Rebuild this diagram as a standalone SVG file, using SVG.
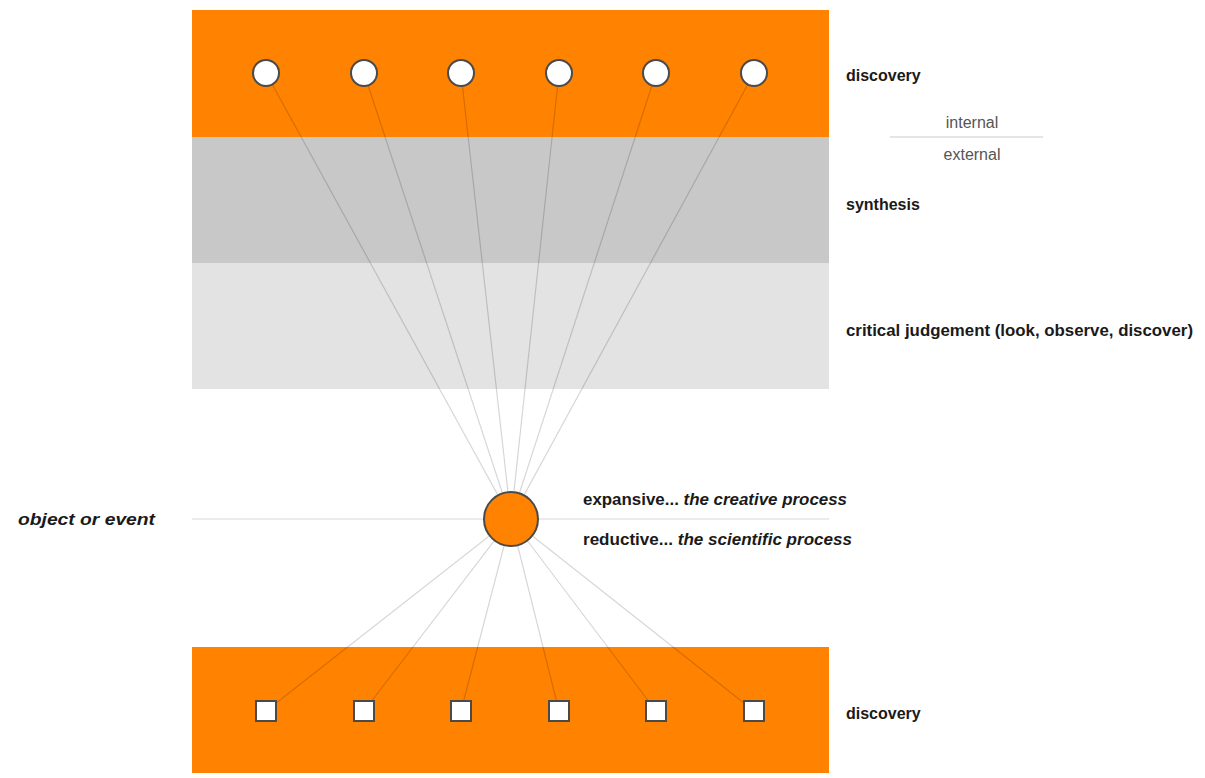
<svg xmlns="http://www.w3.org/2000/svg" width="1205" height="778" viewBox="0 0 1205 778">
<style>
.band-o{fill:#ff8200}
.lbl{font-family:"Liberation Sans Narrow","Liberation Sans",sans-serif;font-weight:bold;font-size:16px;fill:#1a1a1a}
.it{font-style:italic}
.thin{font-family:"Liberation Sans Narrow","Liberation Sans",sans-serif;font-size:16px;fill:#555}
.conn{stroke:#000;stroke-opacity:0.16;stroke-width:1.2;fill:none}
.node{fill:#fff;stroke:#4a4a4a;stroke-width:2}
</style>
<rect width="1205" height="778" fill="#fff"/>
<g id="bands">
<rect class="band-o" x="192" y="10" width="637" height="127"/>
<rect x="192" y="137" width="637" height="126" fill="#c8c8c8"/>
<rect x="192" y="263" width="637" height="126" fill="#e3e3e3"/>
<rect class="band-o" x="192" y="647" width="637" height="126"/>
</g>
<g id="connectors">
<line class="conn" x1="192" y1="519" x2="829" y2="519"/>
<line class="conn" x1="511" y1="519" x2="266" y2="73"/>
<line class="conn" x1="511" y1="519" x2="364" y2="73"/>
<line class="conn" x1="511" y1="519" x2="461" y2="73"/>
<line class="conn" x1="511" y1="519" x2="559" y2="73"/>
<line class="conn" x1="511" y1="519" x2="656" y2="73"/>
<line class="conn" x1="511" y1="519" x2="754" y2="73"/>
<line class="conn" x1="511" y1="519" x2="266" y2="711"/>
<line class="conn" x1="511" y1="519" x2="364" y2="711"/>
<line class="conn" x1="511" y1="519" x2="461" y2="711"/>
<line class="conn" x1="511" y1="519" x2="559" y2="711"/>
<line class="conn" x1="511" y1="519" x2="656" y2="711"/>
<line class="conn" x1="511" y1="519" x2="754" y2="711"/>
<line x1="890" y1="137" x2="1043" y2="137" stroke="#ddd" stroke-width="1.5"/>
</g>
<g id="top-nodes">
<circle id="t1" class="node" cx="266" cy="73" r="13"/>
<circle id="t2" class="node" cx="364" cy="73" r="13"/>
<circle id="t3" class="node" cx="461" cy="73" r="13"/>
<circle id="t4" class="node" cx="559" cy="73" r="13"/>
<circle id="t5" class="node" cx="656" cy="73" r="13"/>
<circle id="t6" class="node" cx="754" cy="73" r="13"/>
</g>
<g id="center">
<circle cx="511" cy="519" r="27" fill="#ff8200" stroke="#4a4a4a" stroke-width="2"/>
</g>
<g id="bottom-nodes">
<rect id="b1" class="node" x="256" y="701" width="20" height="20"/>
<rect id="b2" class="node" x="354" y="701" width="20" height="20"/>
<rect id="b3" class="node" x="451" y="701" width="20" height="20"/>
<rect id="b4" class="node" x="549" y="701" width="20" height="20"/>
<rect id="b5" class="node" x="646" y="701" width="20" height="20"/>
<rect id="b6" class="node" x="744" y="701" width="20" height="20"/>
</g>
<g id="labels">
<text class="lbl" x="846" y="81">discovery</text>
<text class="thin" x="972" y="128" text-anchor="middle">internal</text>
<text class="thin" x="972" y="160" text-anchor="middle">external</text>
<text class="lbl" x="846" y="210">synthesis</text>
<text class="lbl" x="846" y="336" textLength="347" lengthAdjust="spacingAndGlyphs">critical judgement (look, observe, discover)</text>
<text class="lbl" x="583" y="505" textLength="264" lengthAdjust="spacingAndGlyphs">expansive... <tspan class="it">the creative process</tspan></text>
<text class="lbl" x="583" y="545" textLength="269" lengthAdjust="spacingAndGlyphs">reductive... <tspan class="it">the scientific process</tspan></text>
<text class="lbl it" x="18" y="525" font-size="18" textLength="137" lengthAdjust="spacingAndGlyphs">object or event</text>
<text class="lbl" x="846" y="719">discovery</text>
</g>
</svg>
